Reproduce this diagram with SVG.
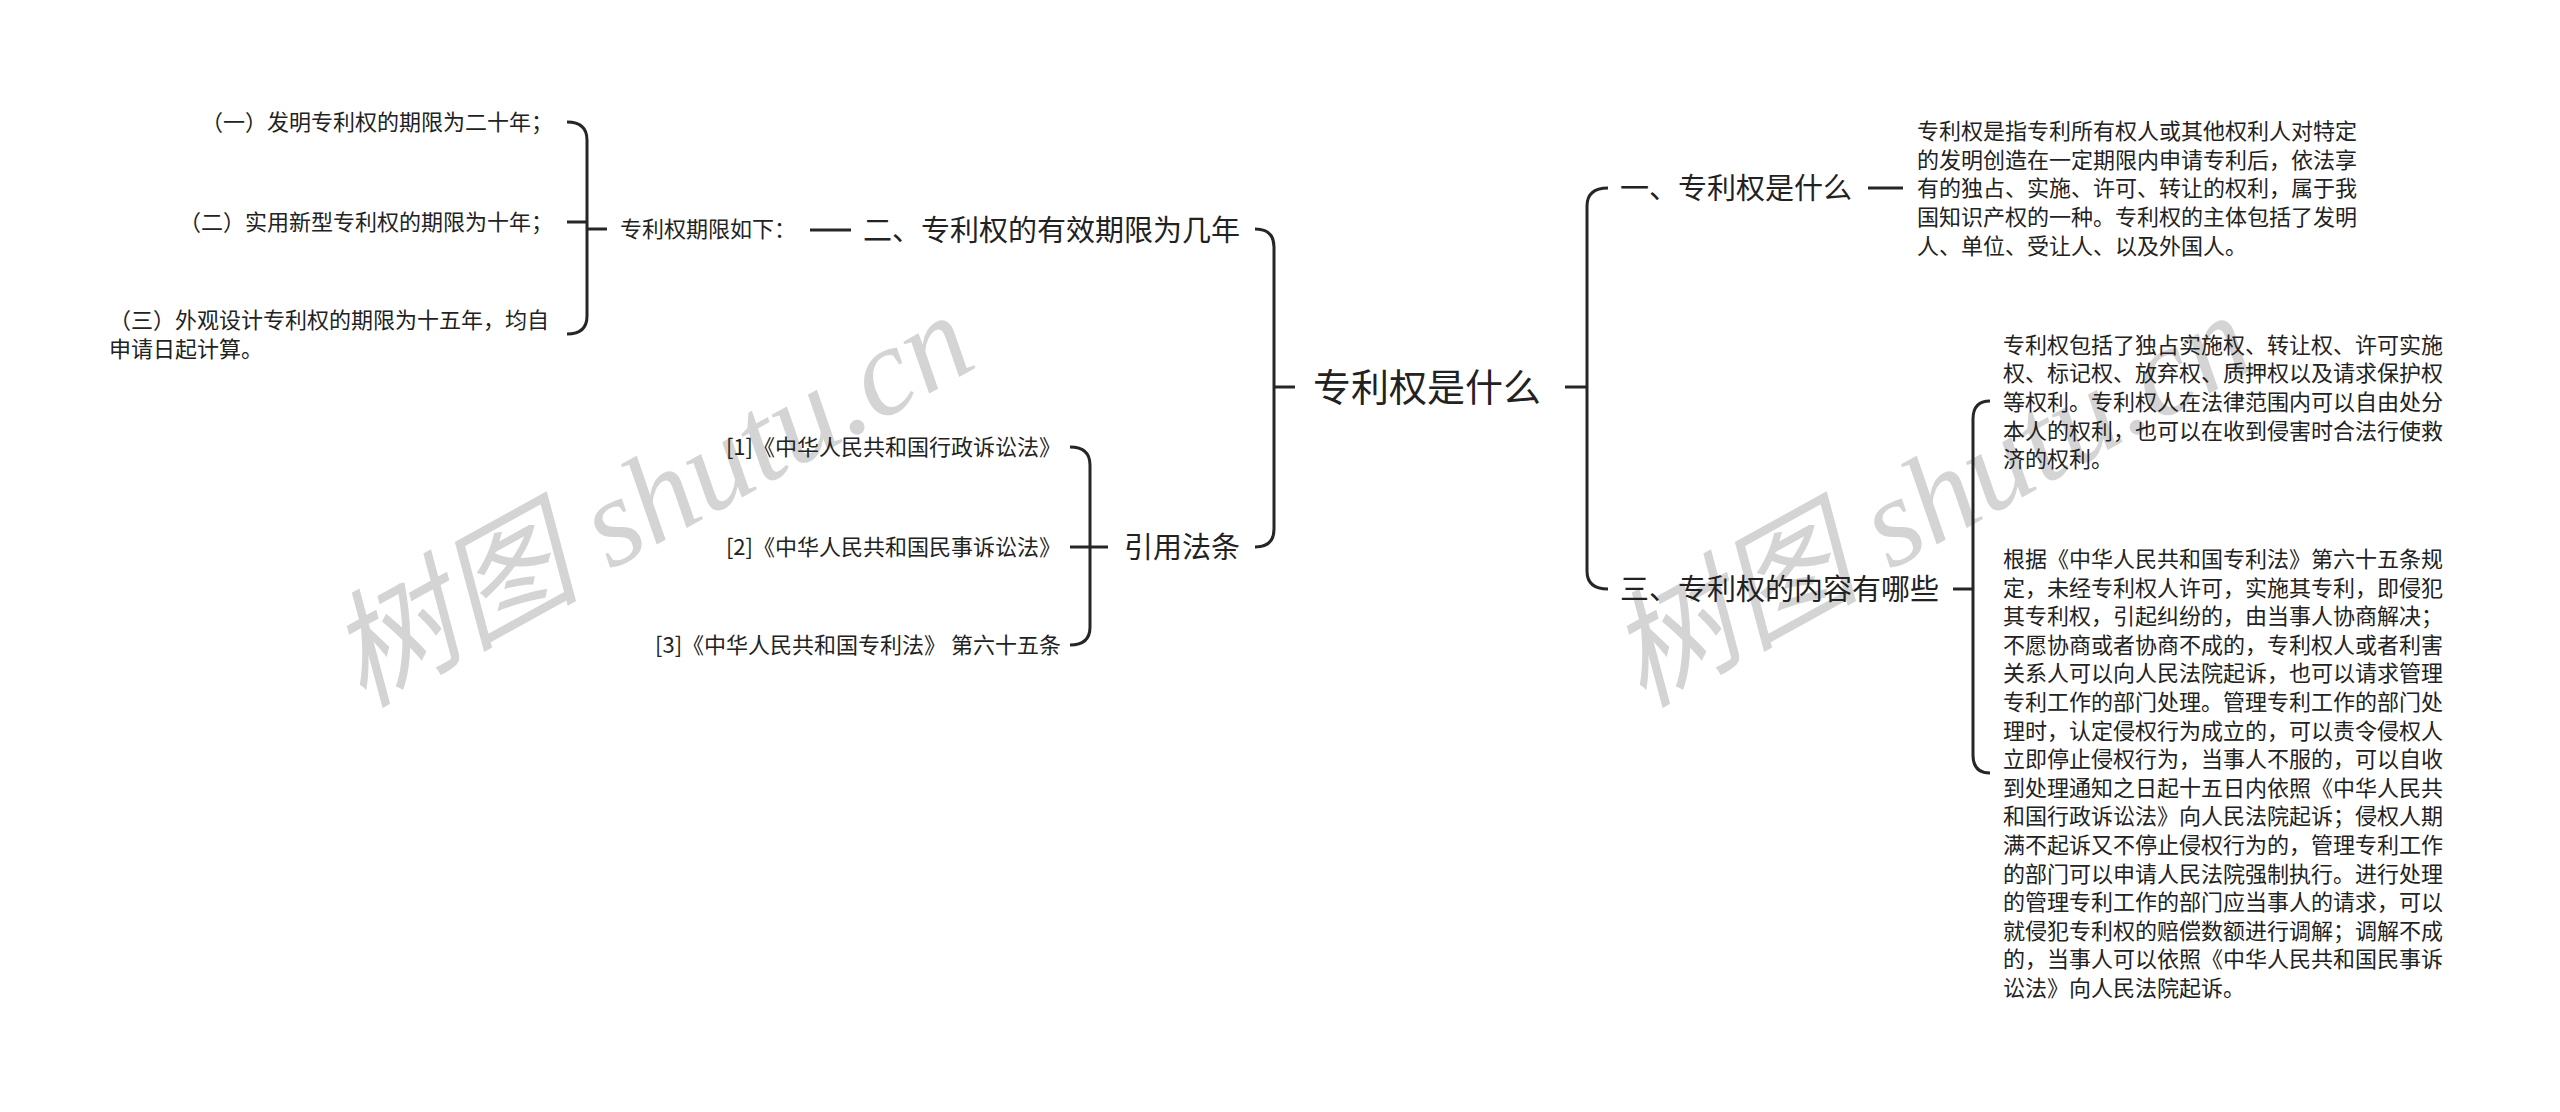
<svg xmlns="http://www.w3.org/2000/svg" width="2560" height="1112" viewBox="0 0 2560 1112">
<style>
text{font-family:"Noto Sans CJK SC","Noto Sans",sans-serif;fill:#222;}
.leaf{font-size:22px;}
.l1{font-size:29px;}
.root{font-size:38px;}
.wm{font-family:"Liberation Serif","Noto Sans CJK SC",serif;font-style:italic;font-size:126px;fill:#d4d4d4;}
.ln{fill:none;stroke:#262626;stroke-width:3;stroke-linecap:butt;}
</style>
<rect width="2560" height="1112" fill="#fff"/>
<g id="watermarks">
<text class="wm" x="362" y="708" transform="rotate(-29 362 708)">树图 shutu.cn</text>
<text class="wm" x="1642" y="708" transform="rotate(-29 1642 708)">树图 shutu.cn</text>
</g>
<g id="connectors">
<path class="ln" d="M1255,229 Q1274,229 1274,247 L1274,529 Q1274,547 1255,547"/>
<path class="ln" d="M1274,387 H1295"/>
<path class="ln" d="M1565,387 H1587"/>
<path class="ln" d="M1608,188 Q1587,188 1587,206 L1587,571 Q1587,589 1608,589"/>
<path class="ln" d="M810,230 H851"/>
<path class="ln" d="M567,122 Q587,122 587,140 L587,316 Q587,334 567,334"/>
<path class="ln" d="M567,222 H587"/>
<path class="ln" d="M587,229 H607"/>
<path class="ln" d="M1070,447 Q1090,447 1090,465 L1090,627 Q1090,645 1070,645"/>
<path class="ln" d="M1070,547 H1108"/>
<path class="ln" d="M1868,188 H1903"/>
<path class="ln" d="M1990,401 Q1973,401 1973,419 L1973,755 Q1973,773 1990,773"/>
<path class="ln" d="M1953,589 H1973"/>
</g>
<g id="root"><text class="root" x="1313" y="401">专利权是什么</text></g>
<g id="n-two"><text class="l1" x="863" y="241">二、专利权的有效期限为几年</text></g>
<g id="n-cite"><text class="l1" x="1124" y="558">引用法条</text></g>
<g id="n-one"><text class="l1" x="1620" y="199">一、专利权是什么</text></g>
<g id="n-three"><text class="l1" x="1620" y="600">三、专利权的内容有哪些</text></g>
<g id="n-term"><text class="leaf" x="620" y="237">专利权期限如下：</text></g>
<g id="n-t1"><text class="leaf" x="553" y="130" text-anchor="end">（一）发明专利权的期限为二十年；</text></g>
<g id="n-t2"><text class="leaf" x="553" y="230" text-anchor="end">（二）实用新型专利权的期限为十年；</text></g>
<g id="n-t3"><text class="leaf" x="109" y="328">（三）外观设计专利权的期限为十五年，均自</text><text class="leaf" x="109" y="357">申请日起计算。</text></g>
<g id="n-c1"><text class="leaf" x="1061" y="455" text-anchor="end">[1]《中华人民共和国行政诉讼法》</text></g>
<g id="n-c2"><text class="leaf" x="1061" y="555" text-anchor="end">[2]《中华人民共和国民事诉讼法》</text></g>
<g id="n-c3"><text class="leaf" x="1061" y="653" text-anchor="end">[3]《中华人民共和国专利法》 第六十五条</text></g>
<g id="n-b1">
<text class="leaf" x="1917" y="139.2">专利权是指专利所有权人或其他权利人对特定</text>
<text class="leaf" x="1917" y="167.8">的发明创造在一定期限内申请专利后，依法享</text>
<text class="leaf" x="1917" y="196.4">有的独占、实施、许可、转让的权利，属于我</text>
<text class="leaf" x="1917" y="225">国知识产权的一种。专利权的主体包括了发明</text>
<text class="leaf" x="1917" y="253.6">人、单位、受让人、以及外国人。</text>
</g>
<g id="n-b2">
<text class="leaf" x="2003" y="352.7">专利权包括了独占实施权、转让权、许可实施</text>
<text class="leaf" x="2003" y="381.3">权、标记权、放弃权、质押权以及请求保护权</text>
<text class="leaf" x="2003" y="409.9">等权利。专利权人在法律范围内可以自由处分</text>
<text class="leaf" x="2003" y="438.5">本人的权利，也可以在收到侵害时合法行使救</text>
<text class="leaf" x="2003" y="467.1">济的权利。</text>
</g>
<g id="n-b3">
<text class="leaf" x="2003" y="566.9">根据《中华人民共和国专利法》第六十五条规</text>
<text class="leaf" x="2003" y="595.5">定，未经专利权人许可，实施其专利，即侵犯</text>
<text class="leaf" x="2003" y="624.1">其专利权，引起纠纷的，由当事人协商解决；</text>
<text class="leaf" x="2003" y="652.7">不愿协商或者协商不成的，专利权人或者利害</text>
<text class="leaf" x="2003" y="681.3">关系人可以向人民法院起诉，也可以请求管理</text>
<text class="leaf" x="2003" y="709.9">专利工作的部门处理。管理专利工作的部门处</text>
<text class="leaf" x="2003" y="738.5">理时，认定侵权行为成立的，可以责令侵权人</text>
<text class="leaf" x="2003" y="767.1">立即停止侵权行为，当事人不服的，可以自收</text>
<text class="leaf" x="2003" y="795.7">到处理通知之日起十五日内依照《中华人民共</text>
<text class="leaf" x="2003" y="824.3">和国行政诉讼法》向人民法院起诉；侵权人期</text>
<text class="leaf" x="2003" y="852.9">满不起诉又不停止侵权行为的，管理专利工作</text>
<text class="leaf" x="2003" y="881.5">的部门可以申请人民法院强制执行。进行处理</text>
<text class="leaf" x="2003" y="910.1">的管理专利工作的部门应当事人的请求，可以</text>
<text class="leaf" x="2003" y="938.7">就侵犯专利权的赔偿数额进行调解；调解不成</text>
<text class="leaf" x="2003" y="967.3">的，当事人可以依照《中华人民共和国民事诉</text>
<text class="leaf" x="2003" y="995.9">讼法》向人民法院起诉。</text>
</g>
</svg>
